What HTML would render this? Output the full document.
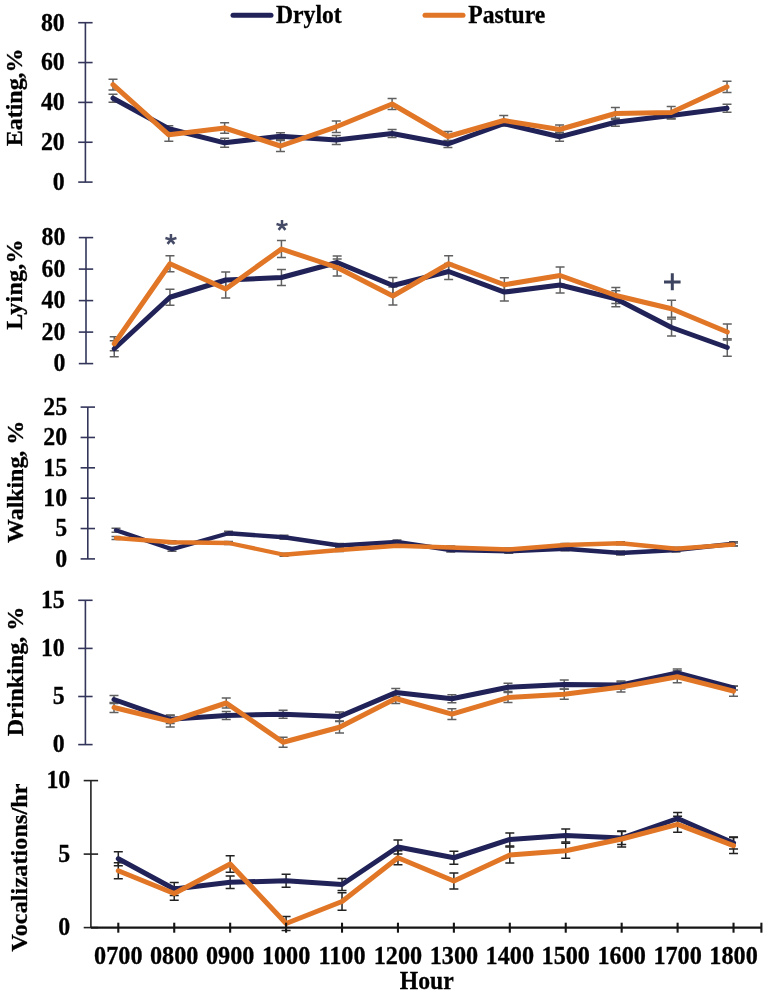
<!DOCTYPE html>
<html><head><meta charset="utf-8">
<style>
html,body{margin:0;padding:0;background:#fff;}
svg{display:block;will-change:transform;}
.t,.t24{font-family:'Liberation Serif', serif;font-weight:bold;font-size:23px;fill:#000;stroke:#000;stroke-width:0.3px;}
.t24{font-size:24px;}
.a{font-family:"Liberation Sans",sans-serif;font-size:30px;fill:#4a5270;}
</style></head><body>
<svg width="768" height="995" viewBox="0 0 768 995">
<line x1="85.4" y1="22.7" x2="85.4" y2="182.1" stroke="#33365a" stroke-width="1.6"/>
<line x1="78.2" y1="22.70" x2="92.60000000000001" y2="22.70" stroke="#33365a" stroke-width="1.6"/>
<text class="t" style="font-size:25.4px" text-anchor="end" transform="translate(64.80 30.55) scale(0.94 1)">80</text>
<line x1="78.2" y1="62.55" x2="92.60000000000001" y2="62.55" stroke="#33365a" stroke-width="1.6"/>
<text class="t" style="font-size:25.4px" text-anchor="end" transform="translate(64.80 70.40) scale(0.94 1)">60</text>
<line x1="78.2" y1="102.40" x2="92.60000000000001" y2="102.40" stroke="#33365a" stroke-width="1.6"/>
<text class="t" style="font-size:25.4px" text-anchor="end" transform="translate(64.80 110.25) scale(0.94 1)">40</text>
<line x1="78.2" y1="142.25" x2="92.60000000000001" y2="142.25" stroke="#33365a" stroke-width="1.6"/>
<text class="t" style="font-size:25.4px" text-anchor="end" transform="translate(64.80 150.10) scale(0.94 1)">20</text>
<line x1="78.2" y1="182.10" x2="92.60000000000001" y2="182.10" stroke="#33365a" stroke-width="1.6"/>
<text class="t" style="font-size:25.4px" text-anchor="end" transform="translate(64.80 189.95) scale(0.94 1)">0</text>
<text class="t24" transform="translate(21.6 146.3) rotate(-90)" textLength="97.9" lengthAdjust="spacing">Eating,%</text>
<path d="M113.00 94.30V102.30M108.50 94.30H117.50M108.50 102.30H117.50" stroke="#606060" stroke-width="1.5" fill="none"/>
<path d="M168.82 125.75V131.75M164.32 125.75H173.32M164.32 131.75H173.32" stroke="#606060" stroke-width="1.5" fill="none"/>
<path d="M224.64 138.30V147.30M220.14 138.30H229.14M220.14 147.30H229.14" stroke="#606060" stroke-width="1.5" fill="none"/>
<path d="M280.46 132.75V139.75M275.96 132.75H284.96M275.96 139.75H284.96" stroke="#606060" stroke-width="1.5" fill="none"/>
<path d="M336.28 135.50V144.50M331.78 135.50H340.78M331.78 144.50H340.78" stroke="#606060" stroke-width="1.5" fill="none"/>
<path d="M392.10 129.50V137.50M387.60 129.50H396.60M387.60 137.50H396.60" stroke="#606060" stroke-width="1.5" fill="none"/>
<path d="M447.92 140.50V147.50M443.42 140.50H452.42M443.42 147.50H452.42" stroke="#606060" stroke-width="1.5" fill="none"/>
<path d="M503.74 121.10V126.10M499.24 121.10H508.24M499.24 126.10H508.24" stroke="#606060" stroke-width="1.5" fill="none"/>
<path d="M559.56 132.30V141.30M555.06 132.30H564.06M555.06 141.30H564.06" stroke="#606060" stroke-width="1.5" fill="none"/>
<path d="M615.38 118.25V126.25M610.88 118.25H619.88M610.88 126.25H619.88" stroke="#606060" stroke-width="1.5" fill="none"/>
<path d="M671.20 112.00V119.00M666.70 112.00H675.70M666.70 119.00H675.70" stroke="#606060" stroke-width="1.5" fill="none"/>
<path d="M727.02 104.25V112.25M722.52 104.25H731.52M722.52 112.25H731.52" stroke="#606060" stroke-width="1.5" fill="none"/>
<path d="M113.00 79.30V89.90M108.50 79.30H117.50M108.50 89.90H117.50" stroke="#606060" stroke-width="1.5" fill="none"/>
<path d="M168.82 128.30V141.30M164.32 128.30H173.32M164.32 141.30H173.32" stroke="#606060" stroke-width="1.5" fill="none"/>
<path d="M224.64 122.70V133.30M220.14 122.70H229.14M220.14 133.30H229.14" stroke="#606060" stroke-width="1.5" fill="none"/>
<path d="M280.46 140.50V151.50M275.96 140.50H284.96M275.96 151.50H284.96" stroke="#606060" stroke-width="1.5" fill="none"/>
<path d="M336.28 121.00V132.60M331.78 121.00H340.78M331.78 132.60H340.78" stroke="#606060" stroke-width="1.5" fill="none"/>
<path d="M392.10 98.50V109.50M387.60 98.50H396.60M387.60 109.50H396.60" stroke="#606060" stroke-width="1.5" fill="none"/>
<path d="M447.92 131.50V141.50M443.42 131.50H452.42M443.42 141.50H452.42" stroke="#606060" stroke-width="1.5" fill="none"/>
<path d="M503.74 115.50V125.50M499.24 115.50H508.24M499.24 125.50H508.24" stroke="#606060" stroke-width="1.5" fill="none"/>
<path d="M559.56 125.00V134.00M555.06 125.00H564.06M555.06 134.00H564.06" stroke="#606060" stroke-width="1.5" fill="none"/>
<path d="M615.38 107.50V119.50M610.88 107.50H619.88M610.88 119.50H619.88" stroke="#606060" stroke-width="1.5" fill="none"/>
<path d="M671.20 106.50V118.50M666.70 106.50H675.70M666.70 118.50H675.70" stroke="#606060" stroke-width="1.5" fill="none"/>
<path d="M727.02 81.20V92.40M722.52 81.20H731.52M722.52 92.40H731.52" stroke="#606060" stroke-width="1.5" fill="none"/>
<polyline points="113.00,98.30 168.82,128.75 224.64,142.80 280.46,136.25 336.28,140.00 392.10,133.50 447.92,144.00 503.74,123.60 559.56,136.80 615.38,122.25 671.20,115.50 727.02,108.25" fill="none" stroke="#202258" stroke-width="5.0" stroke-linejoin="round" stroke-linecap="round"/>
<polyline points="113.00,84.60 168.82,134.80 224.64,128.00 280.46,146.00 336.28,126.80 392.10,104.00 447.92,136.50 503.74,120.50 559.56,129.50 615.38,113.50 671.20,112.50 727.02,86.80" fill="none" stroke="#e07626" stroke-width="5.0" stroke-linejoin="round" stroke-linecap="round"/>
<line x1="86" y1="237.6" x2="86" y2="363.6" stroke="#33365a" stroke-width="1.6"/>
<line x1="78.8" y1="237.60" x2="93.2" y2="237.60" stroke="#33365a" stroke-width="1.6"/>
<text class="t" style="font-size:25.4px" text-anchor="end" transform="translate(65.40 245.45) scale(0.94 1)">80</text>
<line x1="78.8" y1="269.10" x2="93.2" y2="269.10" stroke="#33365a" stroke-width="1.6"/>
<text class="t" style="font-size:25.4px" text-anchor="end" transform="translate(65.40 276.95) scale(0.94 1)">60</text>
<line x1="78.8" y1="300.60" x2="93.2" y2="300.60" stroke="#33365a" stroke-width="1.6"/>
<text class="t" style="font-size:25.4px" text-anchor="end" transform="translate(65.40 308.45) scale(0.94 1)">40</text>
<line x1="78.8" y1="332.10" x2="93.2" y2="332.10" stroke="#33365a" stroke-width="1.6"/>
<text class="t" style="font-size:25.4px" text-anchor="end" transform="translate(65.40 339.95) scale(0.94 1)">20</text>
<line x1="78.8" y1="363.60" x2="93.2" y2="363.60" stroke="#33365a" stroke-width="1.6"/>
<text class="t" style="font-size:25.4px" text-anchor="end" transform="translate(65.40 371.45) scale(0.94 1)">0</text>
<text class="t24" transform="translate(21.6 329.79999999999995) rotate(-90)" textLength="90.4" lengthAdjust="spacing">Lying,%</text>
<path d="M114.25 340.75V356.75M109.75 340.75H118.75M109.75 356.75H118.75" stroke="#606060" stroke-width="1.5" fill="none"/>
<path d="M169.98 289.25V305.25M165.48 289.25H174.48M165.48 305.25H174.48" stroke="#606060" stroke-width="1.5" fill="none"/>
<path d="M225.71 272.00V288.00M221.21 272.00H230.21M221.21 288.00H230.21" stroke="#606060" stroke-width="1.5" fill="none"/>
<path d="M281.44 269.50V285.50M276.94 269.50H285.94M276.94 285.50H285.94" stroke="#606060" stroke-width="1.5" fill="none"/>
<path d="M337.17 256.00V269.00M332.67 256.00H341.67M332.67 269.00H341.67" stroke="#606060" stroke-width="1.5" fill="none"/>
<path d="M392.90 277.50V293.50M388.40 277.50H397.40M388.40 293.50H397.40" stroke="#606060" stroke-width="1.5" fill="none"/>
<path d="M448.63 263.50V279.50M444.13 263.50H453.13M444.13 279.50H453.13" stroke="#606060" stroke-width="1.5" fill="none"/>
<path d="M504.36 283.10V301.10M499.86 283.10H508.86M499.86 301.10H508.86" stroke="#606060" stroke-width="1.5" fill="none"/>
<path d="M560.09 277.00V293.00M555.59 277.00H564.59M555.59 293.00H564.59" stroke="#606060" stroke-width="1.5" fill="none"/>
<path d="M615.82 290.75V306.75M611.32 290.75H620.32M611.32 306.75H620.32" stroke="#606060" stroke-width="1.5" fill="none"/>
<path d="M671.55 318.90V336.10M667.05 318.90H676.05M667.05 336.10H676.05" stroke="#606060" stroke-width="1.5" fill="none"/>
<path d="M727.28 338.75V356.25M722.78 338.75H731.78M722.78 356.25H731.78" stroke="#606060" stroke-width="1.5" fill="none"/>
<path d="M114.25 336.75V350.75M109.75 336.75H118.75M109.75 350.75H118.75" stroke="#606060" stroke-width="1.5" fill="none"/>
<path d="M169.98 255.75V271.75M165.48 255.75H174.48M165.48 271.75H174.48" stroke="#606060" stroke-width="1.5" fill="none"/>
<path d="M225.71 280.00V298.00M221.21 280.00H230.21M221.21 298.00H230.21" stroke="#606060" stroke-width="1.5" fill="none"/>
<path d="M281.44 240.50V257.50M276.94 240.50H285.94M276.94 257.50H285.94" stroke="#606060" stroke-width="1.5" fill="none"/>
<path d="M337.17 259.00V276.00M332.67 259.00H341.67M332.67 276.00H341.67" stroke="#606060" stroke-width="1.5" fill="none"/>
<path d="M392.90 287.00V305.00M388.40 287.00H397.40M388.40 305.00H397.40" stroke="#606060" stroke-width="1.5" fill="none"/>
<path d="M448.63 255.75V271.75M444.13 255.75H453.13M444.13 271.75H453.13" stroke="#606060" stroke-width="1.5" fill="none"/>
<path d="M504.36 277.75V291.75M499.86 277.75H508.86M499.86 291.75H508.86" stroke="#606060" stroke-width="1.5" fill="none"/>
<path d="M560.09 267.00V284.00M555.59 267.00H564.59M555.59 284.00H564.59" stroke="#606060" stroke-width="1.5" fill="none"/>
<path d="M615.82 287.50V303.50M611.32 287.50H620.32M611.32 303.50H620.32" stroke="#606060" stroke-width="1.5" fill="none"/>
<path d="M671.55 300.25V317.25M667.05 300.25H676.05M667.05 317.25H676.05" stroke="#606060" stroke-width="1.5" fill="none"/>
<path d="M727.28 324.00V340.00M722.78 324.00H731.78M722.78 340.00H731.78" stroke="#606060" stroke-width="1.5" fill="none"/>
<polyline points="114.25,348.75 169.98,297.25 225.71,280.00 281.44,277.50 337.17,262.50 392.90,285.50 448.63,271.50 504.36,292.10 560.09,285.00 615.82,298.75 671.55,327.50 727.28,347.50" fill="none" stroke="#202258" stroke-width="5.0" stroke-linejoin="round" stroke-linecap="round"/>
<polyline points="114.25,343.75 169.98,263.75 225.71,289.00 281.44,249.00 337.17,267.50 392.90,296.00 448.63,263.75 504.36,284.75 560.09,275.50 615.82,295.50 671.55,308.75 727.28,332.00" fill="none" stroke="#e07626" stroke-width="5.0" stroke-linejoin="round" stroke-linecap="round"/>
<line x1="87.8" y1="407.1" x2="87.8" y2="558.9" stroke="#33365a" stroke-width="1.6"/>
<line x1="80.6" y1="407.10" x2="95.0" y2="407.10" stroke="#33365a" stroke-width="1.6"/>
<text class="t" style="font-size:25.4px" text-anchor="end" transform="translate(67.20 414.95) scale(0.94 1)">25</text>
<line x1="80.6" y1="437.46" x2="95.0" y2="437.46" stroke="#33365a" stroke-width="1.6"/>
<text class="t" style="font-size:25.4px" text-anchor="end" transform="translate(67.20 445.31) scale(0.94 1)">20</text>
<line x1="80.6" y1="467.82" x2="95.0" y2="467.82" stroke="#33365a" stroke-width="1.6"/>
<text class="t" style="font-size:25.4px" text-anchor="end" transform="translate(67.20 475.67) scale(0.94 1)">15</text>
<line x1="80.6" y1="498.18" x2="95.0" y2="498.18" stroke="#33365a" stroke-width="1.6"/>
<text class="t" style="font-size:25.4px" text-anchor="end" transform="translate(67.20 506.03) scale(0.94 1)">10</text>
<line x1="80.6" y1="528.54" x2="95.0" y2="528.54" stroke="#33365a" stroke-width="1.6"/>
<text class="t" style="font-size:25.4px" text-anchor="end" transform="translate(67.20 536.39) scale(0.94 1)">5</text>
<line x1="80.6" y1="558.90" x2="95.0" y2="558.90" stroke="#33365a" stroke-width="1.6"/>
<text class="t" style="font-size:25.4px" text-anchor="end" transform="translate(67.20 566.75) scale(0.94 1)">0</text>
<text class="t24" transform="translate(22.9 542.9) rotate(-90)" textLength="122.1" lengthAdjust="spacing">Walking, %</text>
<path d="M116.00 528.20V532.20M111.50 528.20H120.50M111.50 532.20H120.50" stroke="#606060" stroke-width="1.5" fill="none"/>
<path d="M172.00 547.25V551.25M167.50 547.25H176.50M167.50 551.25H176.50" stroke="#606060" stroke-width="1.5" fill="none"/>
<path d="M228.50 531.25V535.25M224.00 531.25H233.00M224.00 535.25H233.00" stroke="#606060" stroke-width="1.5" fill="none"/>
<path d="M284.00 535.25V539.25M279.50 535.25H288.50M279.50 539.25H288.50" stroke="#606060" stroke-width="1.5" fill="none"/>
<path d="M339.50 543.50V547.50M335.00 543.50H344.00M335.00 547.50H344.00" stroke="#606060" stroke-width="1.5" fill="none"/>
<path d="M397.00 540.00V544.00M392.50 540.00H401.50M392.50 544.00H401.50" stroke="#606060" stroke-width="1.5" fill="none"/>
<path d="M450.75 548.00V552.00M446.25 548.00H455.25M446.25 552.00H455.25" stroke="#606060" stroke-width="1.5" fill="none"/>
<path d="M508.75 549.25V553.25M504.25 549.25H513.25M504.25 553.25H513.25" stroke="#606060" stroke-width="1.5" fill="none"/>
<path d="M565.00 546.75V550.75M560.50 546.75H569.50M560.50 550.75H569.50" stroke="#606060" stroke-width="1.5" fill="none"/>
<path d="M620.50 551.00V555.00M616.00 551.00H625.00M616.00 555.00H625.00" stroke="#606060" stroke-width="1.5" fill="none"/>
<path d="M676.00 548.00V552.00M671.50 548.00H680.50M671.50 552.00H680.50" stroke="#606060" stroke-width="1.5" fill="none"/>
<path d="M733.50 541.75V545.75M729.00 541.75H738.00M729.00 545.75H738.00" stroke="#606060" stroke-width="1.5" fill="none"/>
<path d="M116.00 536.50V539.50M111.50 536.50H120.50M111.50 539.50H120.50" stroke="#606060" stroke-width="1.5" fill="none"/>
<path d="M172.00 540.75V543.75M167.50 540.75H176.50M167.50 543.75H176.50" stroke="#606060" stroke-width="1.5" fill="none"/>
<path d="M228.50 541.50V544.50M224.00 541.50H233.00M224.00 544.50H233.00" stroke="#606060" stroke-width="1.5" fill="none"/>
<path d="M284.00 553.25V556.25M279.50 553.25H288.50M279.50 556.25H288.50" stroke="#606060" stroke-width="1.5" fill="none"/>
<path d="M339.50 548.50V551.50M335.00 548.50H344.00M335.00 551.50H344.00" stroke="#606060" stroke-width="1.5" fill="none"/>
<path d="M397.00 544.25V547.25M392.50 544.25H401.50M392.50 547.25H401.50" stroke="#606060" stroke-width="1.5" fill="none"/>
<path d="M450.75 546.00V549.00M446.25 546.00H455.25M446.25 549.00H455.25" stroke="#606060" stroke-width="1.5" fill="none"/>
<path d="M508.75 548.00V551.00M504.25 548.00H513.25M504.25 551.00H513.25" stroke="#606060" stroke-width="1.5" fill="none"/>
<path d="M565.00 543.50V546.50M560.50 543.50H569.50M560.50 546.50H569.50" stroke="#606060" stroke-width="1.5" fill="none"/>
<path d="M620.50 541.75V544.75M616.00 541.75H625.00M616.00 544.75H625.00" stroke="#606060" stroke-width="1.5" fill="none"/>
<path d="M676.00 547.25V550.25M671.50 547.25H680.50M671.50 550.25H680.50" stroke="#606060" stroke-width="1.5" fill="none"/>
<path d="M733.50 543.00V546.00M729.00 543.00H738.00M729.00 546.00H738.00" stroke="#606060" stroke-width="1.5" fill="none"/>
<polyline points="116.00,530.20 172.00,549.25 228.50,533.25 284.00,537.25 339.50,545.50 397.00,542.00 450.75,550.00 508.75,551.25 565.00,548.75 620.50,553.00 676.00,550.00 733.50,543.75" fill="none" stroke="#202258" stroke-width="4.3" stroke-linejoin="round" stroke-linecap="round"/>
<polyline points="116.00,538.00 172.00,542.25 228.50,543.00 284.00,554.75 339.50,550.00 397.00,545.75 450.75,547.50 508.75,549.50 565.00,545.00 620.50,543.25 676.00,548.75 733.50,544.50" fill="none" stroke="#e07626" stroke-width="4.3" stroke-linejoin="round" stroke-linecap="round"/>
<line x1="85.4" y1="600.3" x2="85.4" y2="744.6" stroke="#33365a" stroke-width="1.6"/>
<line x1="78.2" y1="600.30" x2="92.60000000000001" y2="600.30" stroke="#33365a" stroke-width="1.6"/>
<text class="t" style="font-size:25.4px" text-anchor="end" transform="translate(64.80 608.15) scale(0.94 1)">15</text>
<line x1="78.2" y1="648.40" x2="92.60000000000001" y2="648.40" stroke="#33365a" stroke-width="1.6"/>
<text class="t" style="font-size:25.4px" text-anchor="end" transform="translate(64.80 656.25) scale(0.94 1)">10</text>
<line x1="78.2" y1="696.50" x2="92.60000000000001" y2="696.50" stroke="#33365a" stroke-width="1.6"/>
<text class="t" style="font-size:25.4px" text-anchor="end" transform="translate(64.80 704.35) scale(0.94 1)">5</text>
<line x1="78.2" y1="744.60" x2="92.60000000000001" y2="744.60" stroke="#33365a" stroke-width="1.6"/>
<text class="t" style="font-size:25.4px" text-anchor="end" transform="translate(64.80 752.45) scale(0.94 1)">0</text>
<text class="t24" transform="translate(23.2 736.3) rotate(-90)" textLength="129.6" lengthAdjust="spacing">Drinking, %</text>
<path d="M114.00 695.50V703.50M109.50 695.50H118.50M109.50 703.50H118.50" stroke="#606060" stroke-width="1.5" fill="none"/>
<path d="M170.25 715.00V723.60M165.75 715.00H174.75M165.75 723.60H174.75" stroke="#606060" stroke-width="1.5" fill="none"/>
<path d="M226.25 711.50V719.50M221.75 711.50H230.75M221.75 719.50H230.75" stroke="#606060" stroke-width="1.5" fill="none"/>
<path d="M283.10 710.20V718.20M278.60 710.20H287.60M278.60 718.20H287.60" stroke="#606060" stroke-width="1.5" fill="none"/>
<path d="M339.50 712.00V721.00M335.00 712.00H344.00M335.00 721.00H344.00" stroke="#606060" stroke-width="1.5" fill="none"/>
<path d="M395.75 688.60V696.60M391.25 688.60H400.25M391.25 696.60H400.25" stroke="#606060" stroke-width="1.5" fill="none"/>
<path d="M451.90 694.70V702.70M447.40 694.70H456.40M447.40 702.70H456.40" stroke="#606060" stroke-width="1.5" fill="none"/>
<path d="M508.00 683.20V691.40M503.50 683.20H512.50M503.50 691.40H512.50" stroke="#606060" stroke-width="1.5" fill="none"/>
<path d="M564.25 680.10V688.90M559.75 680.10H568.75M559.75 688.90H568.75" stroke="#606060" stroke-width="1.5" fill="none"/>
<path d="M621.00 681.00V689.00M616.50 681.00H625.50M616.50 689.00H625.50" stroke="#606060" stroke-width="1.5" fill="none"/>
<path d="M677.25 669.00V677.00M672.75 669.00H681.75M672.75 677.00H681.75" stroke="#606060" stroke-width="1.5" fill="none"/>
<path d="M733.50 686.00V690.00M729.00 686.00H738.00M729.00 690.00H738.00" stroke="#606060" stroke-width="1.5" fill="none"/>
<path d="M114.00 702.50V712.50M109.50 702.50H118.50M109.50 712.50H118.50" stroke="#606060" stroke-width="1.5" fill="none"/>
<path d="M170.25 715.60V727.00M165.75 715.60H174.75M165.75 727.00H174.75" stroke="#606060" stroke-width="1.5" fill="none"/>
<path d="M226.25 698.00V708.00M221.75 698.00H230.75M221.75 708.00H230.75" stroke="#606060" stroke-width="1.5" fill="none"/>
<path d="M283.10 737.25V747.25M278.60 737.25H287.60M278.60 747.25H287.60" stroke="#606060" stroke-width="1.5" fill="none"/>
<path d="M339.50 721.55V732.95M335.00 721.55H344.00M335.00 732.95H344.00" stroke="#606060" stroke-width="1.5" fill="none"/>
<path d="M395.75 693.50V703.50M391.25 693.50H400.25M391.25 703.50H400.25" stroke="#606060" stroke-width="1.5" fill="none"/>
<path d="M451.90 708.80V719.60M447.40 708.80H456.40M447.40 719.60H456.40" stroke="#606060" stroke-width="1.5" fill="none"/>
<path d="M508.00 692.60V702.60M503.50 692.60H512.50M503.50 702.60H512.50" stroke="#606060" stroke-width="1.5" fill="none"/>
<path d="M564.25 689.20V699.20M559.75 689.20H568.75M559.75 699.20H568.75" stroke="#606060" stroke-width="1.5" fill="none"/>
<path d="M621.00 682.00V692.00M616.50 682.00H625.50M616.50 692.00H625.50" stroke="#606060" stroke-width="1.5" fill="none"/>
<path d="M677.25 670.75V682.75M672.75 670.75H681.75M672.75 682.75H681.75" stroke="#606060" stroke-width="1.5" fill="none"/>
<path d="M733.50 686.20V696.20M729.00 686.20H738.00M729.00 696.20H738.00" stroke="#606060" stroke-width="1.5" fill="none"/>
<polyline points="114.00,699.50 170.25,719.30 226.25,715.50 283.10,714.20 339.50,716.50 395.75,692.60 451.90,698.70 508.00,687.30 564.25,684.50 621.00,685.00 677.25,673.00 733.50,688.00" fill="none" stroke="#202258" stroke-width="5.0" stroke-linejoin="round" stroke-linecap="round"/>
<polyline points="114.00,707.50 170.25,721.30 226.25,703.00 283.10,742.25 339.50,727.25 395.75,698.50 451.90,714.20 508.00,697.60 564.25,694.20 621.00,687.00 677.25,676.75 733.50,691.20" fill="none" stroke="#e07626" stroke-width="5.0" stroke-linejoin="round" stroke-linecap="round"/>
<line x1="90.9" y1="780.6" x2="90.9" y2="927.6" stroke="#222" stroke-width="1.6"/>
<line x1="83.7" y1="780.60" x2="98.10000000000001" y2="780.60" stroke="#222" stroke-width="1.6"/>
<text class="t" style="font-size:25.4px" text-anchor="end" transform="translate(70.30 788.45) scale(0.94 1)">10</text>
<line x1="83.7" y1="854.10" x2="98.10000000000001" y2="854.10" stroke="#222" stroke-width="1.6"/>
<text class="t" style="font-size:25.4px" text-anchor="end" transform="translate(70.30 861.95) scale(0.94 1)">5</text>
<line x1="83.7" y1="927.60" x2="98.10000000000001" y2="927.60" stroke="#222" stroke-width="1.6"/>
<text class="t" style="font-size:25.4px" text-anchor="end" transform="translate(70.30 935.45) scale(0.94 1)">0</text>
<text class="t24" transform="translate(27.4 951.6) rotate(-90)" textLength="168.1" lengthAdjust="spacing">Vocalizations/hr</text>
<path d="M118.30 851.75V865.75M113.80 851.75H122.80M113.80 865.75H122.80" stroke="#222" stroke-width="1.5" fill="none"/>
<path d="M174.23 882.60V895.40M169.73 882.60H178.73M169.73 895.40H178.73" stroke="#222" stroke-width="1.5" fill="none"/>
<path d="M230.16 876.00V888.60M225.66 876.00H234.66M225.66 888.60H234.66" stroke="#222" stroke-width="1.5" fill="none"/>
<path d="M286.09 874.25V887.25M281.59 874.25H290.59M281.59 887.25H290.59" stroke="#222" stroke-width="1.5" fill="none"/>
<path d="M342.02 878.50V890.50M337.52 878.50H346.52M337.52 890.50H346.52" stroke="#222" stroke-width="1.5" fill="none"/>
<path d="M397.95 840.00V854.00M393.45 840.00H402.45M393.45 854.00H402.45" stroke="#222" stroke-width="1.5" fill="none"/>
<path d="M453.88 851.15V864.35M449.38 851.15H458.38M449.38 864.35H458.38" stroke="#222" stroke-width="1.5" fill="none"/>
<path d="M509.81 833.00V846.00M505.31 833.00H514.31M505.31 846.00H514.31" stroke="#222" stroke-width="1.5" fill="none"/>
<path d="M565.74 829.00V842.00M561.24 829.00H570.24M561.24 842.00H570.24" stroke="#222" stroke-width="1.5" fill="none"/>
<path d="M621.67 831.50V844.50M617.17 831.50H626.17M617.17 844.50H626.17" stroke="#222" stroke-width="1.5" fill="none"/>
<path d="M677.60 812.50V824.50M673.10 812.50H682.10M673.10 824.50H682.10" stroke="#222" stroke-width="1.5" fill="none"/>
<path d="M733.53 837.00V849.00M729.03 837.00H738.03M729.03 849.00H738.03" stroke="#222" stroke-width="1.5" fill="none"/>
<path d="M118.30 862.75V878.75M113.80 862.75H122.80M113.80 878.75H122.80" stroke="#222" stroke-width="1.5" fill="none"/>
<path d="M174.23 886.70V900.30M169.73 886.70H178.73M169.73 900.30H178.73" stroke="#222" stroke-width="1.5" fill="none"/>
<path d="M230.16 855.70V872.30M225.66 855.70H234.66M225.66 872.30H234.66" stroke="#222" stroke-width="1.5" fill="none"/>
<path d="M286.09 916.50V930.50M281.59 916.50H290.59M281.59 930.50H290.59" stroke="#222" stroke-width="1.5" fill="none"/>
<path d="M342.02 892.70V910.30M337.52 892.70H346.52M337.52 910.30H346.52" stroke="#222" stroke-width="1.5" fill="none"/>
<path d="M397.95 850.75V864.75M393.45 850.75H402.45M393.45 864.75H402.45" stroke="#222" stroke-width="1.5" fill="none"/>
<path d="M453.88 873.00V889.00M449.38 873.00H458.38M449.38 889.00H458.38" stroke="#222" stroke-width="1.5" fill="none"/>
<path d="M509.81 847.00V863.00M505.31 847.00H514.31M505.31 863.00H514.31" stroke="#222" stroke-width="1.5" fill="none"/>
<path d="M565.74 843.30V858.30M561.24 843.30H570.24M561.24 858.30H570.24" stroke="#222" stroke-width="1.5" fill="none"/>
<path d="M621.67 831.00V847.00M617.17 831.00H626.17M617.17 847.00H626.17" stroke="#222" stroke-width="1.5" fill="none"/>
<path d="M677.60 816.30V832.30M673.10 816.30H682.10M673.10 832.30H682.10" stroke="#222" stroke-width="1.5" fill="none"/>
<path d="M733.53 837.60V853.60M729.03 837.60H738.03M729.03 853.60H738.03" stroke="#222" stroke-width="1.5" fill="none"/>
<polyline points="118.30,858.75 174.23,889.00 230.16,882.30 286.09,880.75 342.02,884.50 397.95,847.00 453.88,857.75 509.81,839.50 565.74,835.50 621.67,838.00 677.60,818.50 733.53,843.00" fill="none" stroke="#202258" stroke-width="5.0" stroke-linejoin="round" stroke-linecap="round"/>
<polyline points="118.30,870.75 174.23,893.50 230.16,864.00 286.09,923.50 342.02,901.50 397.95,857.75 453.88,881.00 509.81,855.00 565.74,850.80 621.67,839.00 677.60,824.30 733.53,845.60" fill="none" stroke="#e07626" stroke-width="5.0" stroke-linejoin="round" stroke-linecap="round"/>
<line x1="90.9" y1="927.6" x2="761.4" y2="927.6" stroke="#151515" stroke-width="2.1"/>
<line x1="118.30" y1="922.7" x2="118.30" y2="932.7" stroke="#151515" stroke-width="2.1"/>
<line x1="174.23" y1="922.7" x2="174.23" y2="932.7" stroke="#151515" stroke-width="2.1"/>
<line x1="230.16" y1="922.7" x2="230.16" y2="932.7" stroke="#151515" stroke-width="2.1"/>
<line x1="286.09" y1="922.7" x2="286.09" y2="932.7" stroke="#151515" stroke-width="2.1"/>
<line x1="342.02" y1="922.7" x2="342.02" y2="932.7" stroke="#151515" stroke-width="2.1"/>
<line x1="397.95" y1="922.7" x2="397.95" y2="932.7" stroke="#151515" stroke-width="2.1"/>
<line x1="453.88" y1="922.7" x2="453.88" y2="932.7" stroke="#151515" stroke-width="2.1"/>
<line x1="509.81" y1="922.7" x2="509.81" y2="932.7" stroke="#151515" stroke-width="2.1"/>
<line x1="565.74" y1="922.7" x2="565.74" y2="932.7" stroke="#151515" stroke-width="2.1"/>
<line x1="621.67" y1="922.7" x2="621.67" y2="932.7" stroke="#151515" stroke-width="2.1"/>
<line x1="677.60" y1="922.7" x2="677.60" y2="932.7" stroke="#151515" stroke-width="2.1"/>
<line x1="733.53" y1="922.7" x2="733.53" y2="932.7" stroke="#151515" stroke-width="2.1"/>
<line x1="761.40" y1="922.7" x2="761.40" y2="932.7" stroke="#151515" stroke-width="2.1"/>
<text class="t" style="font-size:25.5px" text-anchor="middle" transform="translate(118.30 963.60) scale(0.95 1)">0700</text>
<text class="t" style="font-size:25.5px" text-anchor="middle" transform="translate(174.23 963.60) scale(0.95 1)">0800</text>
<text class="t" style="font-size:25.5px" text-anchor="middle" transform="translate(230.16 963.60) scale(0.95 1)">0900</text>
<text class="t" style="font-size:25.5px" text-anchor="middle" transform="translate(286.09 963.60) scale(0.95 1)">1000</text>
<text class="t" style="font-size:25.5px" text-anchor="middle" transform="translate(342.02 963.60) scale(0.95 1)">1100</text>
<text class="t" style="font-size:25.5px" text-anchor="middle" transform="translate(397.95 963.60) scale(0.95 1)">1200</text>
<text class="t" style="font-size:25.5px" text-anchor="middle" transform="translate(453.88 963.60) scale(0.95 1)">1300</text>
<text class="t" style="font-size:25.5px" text-anchor="middle" transform="translate(509.81 963.60) scale(0.95 1)">1400</text>
<text class="t" style="font-size:25.5px" text-anchor="middle" transform="translate(565.74 963.60) scale(0.95 1)">1500</text>
<text class="t" style="font-size:25.5px" text-anchor="middle" transform="translate(621.67 963.60) scale(0.95 1)">1600</text>
<text class="t" style="font-size:25.5px" text-anchor="middle" transform="translate(677.60 963.60) scale(0.95 1)">1700</text>
<text class="t" style="font-size:25.5px" text-anchor="middle" transform="translate(733.53 963.60) scale(0.95 1)">1800</text>
<text class="t" style="font-size:25px" text-anchor="middle" transform="translate(426.70 988.80) scale(0.948 1)">Hour</text>
<line x1="233" y1="15.3" x2="271" y2="15.3" stroke="#202258" stroke-width="5" stroke-linecap="round"/>
<text class="t" style="font-size:25.3px" text-anchor="start" transform="translate(276.00 23.30) scale(0.935 1)">Drylot</text>
<line x1="425" y1="15.3" x2="463" y2="15.3" stroke="#e07626" stroke-width="5" stroke-linecap="round"/>
<text class="t" style="font-size:25.3px" text-anchor="start" transform="translate(468.20 23.30) scale(0.935 1)">Pasture</text>
<path d="M170.94 239.6L170.94 234.0M170.94 239.6L165.44 238.0M170.94 239.6L176.44 238.0M170.94 239.6L167.54 243.9M170.94 239.6L174.34 243.9" stroke="#454b66" stroke-width="2.5" stroke-linecap="butt" fill="none"/>
<path d="M282.0 225.6L282.0 220.0M282.0 225.6L276.5 224.0M282.0 225.6L287.5 224.0M282.0 225.6L278.6 229.9M282.0 225.6L285.4 229.9" stroke="#454b66" stroke-width="2.5" stroke-linecap="butt" fill="none"/>
<path d="M664 282H680.6M672.3 273.3V290.3" stroke="#3d4460" stroke-width="3"/>
</svg>
</body></html>
